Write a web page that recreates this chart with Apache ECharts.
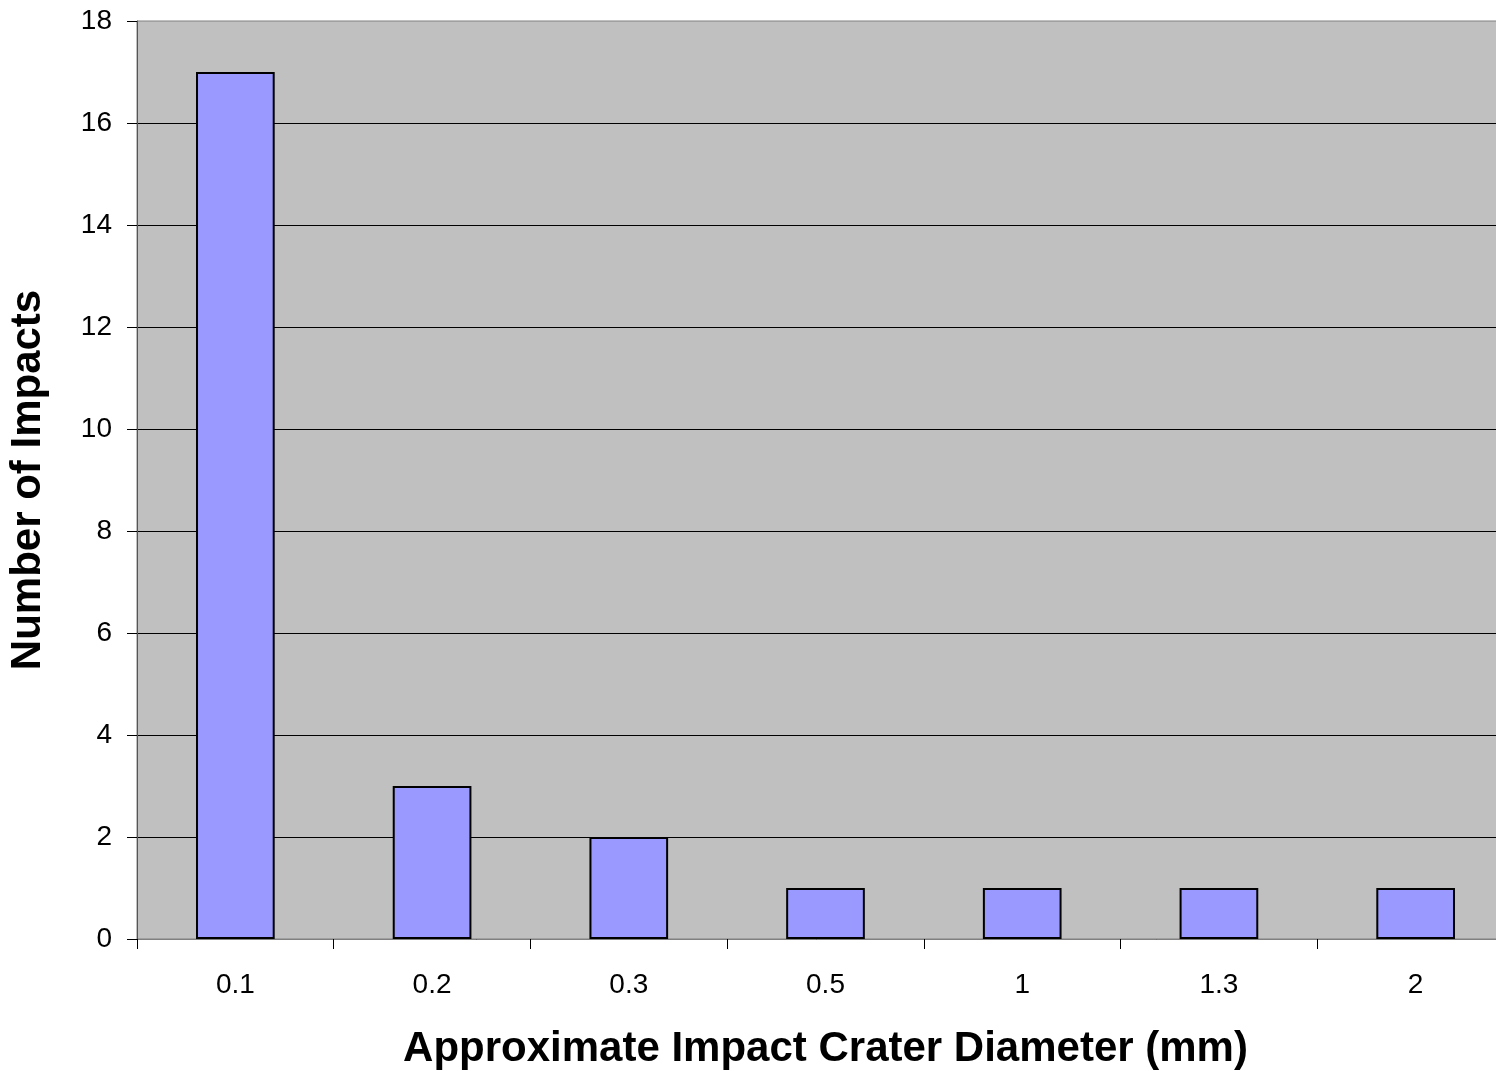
<!DOCTYPE html>
<html>
<head>
<meta charset="utf-8">
<style>
  html, body { margin: 0; padding: 0; background: #fff; }
  #chart { width: 1496px; height: 1071px; }
</style>
<script src="https://cdn.jsdelivr.net/npm/echarts@6/dist/echarts.min.js"></script>
</head>
<body>
<div id="chart"></div>
<script>
// Crater diameter classes (mm) and the count of impacts in each
const diameters = ['0.1', '0.2', '0.3', '0.5', '1', '1.3', '2'];
const impactCounts = [17, 3, 2, 1, 1, 1, 1];
const yTicks = { min: 0, max: 18, interval: 2 };

const chart = echarts.init(document.getElementById('chart'), null, { renderer: 'canvas' });
const font = '"Liberation Sans", Arial, sans-serif';

chart.setOption({
  animation: false,
  grid: {
    left: 137, top: 21, right: -18, bottom: 132,
    containLabel: false,
    outerBoundsMode: 'none',
    show: true, backgroundColor: '#C0C0C0', borderColor: '#808080', borderWidth: 1
  },
  xAxis: {
    type: 'category',
    data: diameters,
    boundaryGap: true,
    axisLine: { lineStyle: { color: '#808080', width: 1 } },
    axisTick: { show: true, length: 10, lineStyle: { color: '#000' } },
    axisLabel: { color: '#000', fontFamily: font, fontSize: 28, margin: 32 },
    name: 'Approximate Impact Crater Diameter (mm)',
    nameLocation: 'middle',
    nameGap: 89,
    nameTextStyle: { color: '#000', fontFamily: font, fontSize: 42, fontWeight: 'bold' }
  },
  yAxis: {
    type: 'value',
    min: yTicks.min, max: yTicks.max, interval: yTicks.interval,
    axisLine: { show: true, lineStyle: { color: '#555', width: 1 } },
    axisTick: { show: true, length: 10, lineStyle: { color: '#000' } },
    axisLabel: { color: '#000', fontFamily: font, fontSize: 28, margin: 25 },
    splitLine: { show: true, showMaxLine: false, lineStyle: { color: '#000', width: 1 } },
    name: 'Number of Impacts',
    nameLocation: 'middle',
    nameGap: 88,
    nameTextStyle: { color: '#000', fontFamily: font, fontSize: 42, fontWeight: 'bold' }
  },
  series: [{
    type: 'bar',
    data: impactCounts,
    barWidth: '40%',
    itemStyle: { color: '#9999FF', borderColor: '#000', borderWidth: 2 }
  }]
});
</script>
</body>
</html>
